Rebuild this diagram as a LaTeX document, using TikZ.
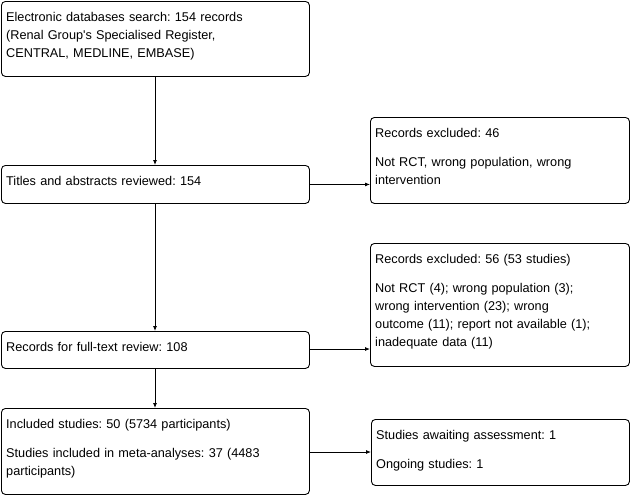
\documentclass[tikz,border=0pt]{standalone}
\usepackage{fontspec}
\setmainfont{Liberation Sans}[Ligatures=TeXOff]
\usetikzlibrary{arrows.meta}
\hyphenpenalty=10000
\frenchspacing
\tikzset{
  box/.style={draw, rounded corners=4pt, line width=0.9pt, anchor=north west, inner sep=0pt},
  txt/.style={anchor=north west, inner sep=0pt, align=left, font=\fontsize{12.7pt}{18pt}\selectfont},
  arr/.style={line width=0.8pt, -{Latex[length=5pt,width=4pt]}}
}
\newcommand{\pgap}{\par\vspace{11pt}}
\begin{document}
\begin{tikzpicture}[x=1pt,y=-1pt]
\useasboundingbox (0,0) rectangle (632,496);
% boxes
\node[box, minimum width=308pt, minimum height=75pt] (a) at (1,1) {};
\node[box, minimum width=308pt, minimum height=38pt] (b) at (1,165) {};
\node[box, minimum width=259pt, minimum height=86pt] (c) at (370,117) {};
\node[box, minimum width=308pt, minimum height=37pt] (d) at (1,331) {};
\node[box, minimum width=259pt, minimum height=123pt] (e) at (370,243) {};
\node[box, minimum width=308pt, minimum height=86pt] (f) at (1,408) {};
\node[box, minimum width=258pt, minimum height=66pt] (g) at (371,419) {};
% texts
\node[txt, text width=300pt] (ta) at ([xshift=5pt,yshift=-11pt]a.north west)
  {Electronic databases search: 154 records\\(Renal Group's Specialised Register,\\CENTRAL, MEDLINE, EMBASE)};
\node[txt, text width=300pt] (tb) at ([xshift=5pt,yshift=-11pt]b.north west)
  {Titles and abstracts reviewed: 154};
\node[txt, text width=252pt] (tc) at ([xshift=5pt,yshift=-11pt]c.north west)
  {Records excluded: 46\pgap Not RCT, wrong population, wrong\\intervention};
\node[txt, text width=300pt] (td) at ([xshift=5pt,yshift=-11pt]d.north west)
  {Records for full-text review: 108};
\node[txt, text width=252pt] (te) at ([xshift=5pt,yshift=-11pt]e.north west)
  {Records excluded: 56 (53 studies)\pgap Not RCT (4); wrong population (3);\\wrong intervention (23); wrong\\outcome (11); report not available (1);\\inadequate data (11)};
\node[txt, text width=300pt] (tf) at ([xshift=5pt,yshift=-11pt]f.north west)
  {Included studies: 50 (5734 participants)\pgap Studies included in meta-analyses: 37 (4483\\participants)};
\node[txt, text width=252pt] (tg) at ([xshift=5pt,yshift=-11pt]g.north west)
  {Studies awaiting assessment: 1\pgap Ongoing studies: 1};
% connectors
\draw[arr] (a.south -| 155,0) -- (b.north -| 155,0);
\draw[arr] (b.south -| 155,0) -- (d.north -| 155,0);
\draw[arr] (d.south -| 155,0) -- (f.north -| 155,0);
\draw[arr] (b.east) -- (b.east -| c.west);
\draw[arr] (d.east |- 0,349) -- (e.west |- 0,349);
\draw[arr] (f.east |- 0,452) -- (g.west |- 0,452);
\end{tikzpicture}
\end{document}
